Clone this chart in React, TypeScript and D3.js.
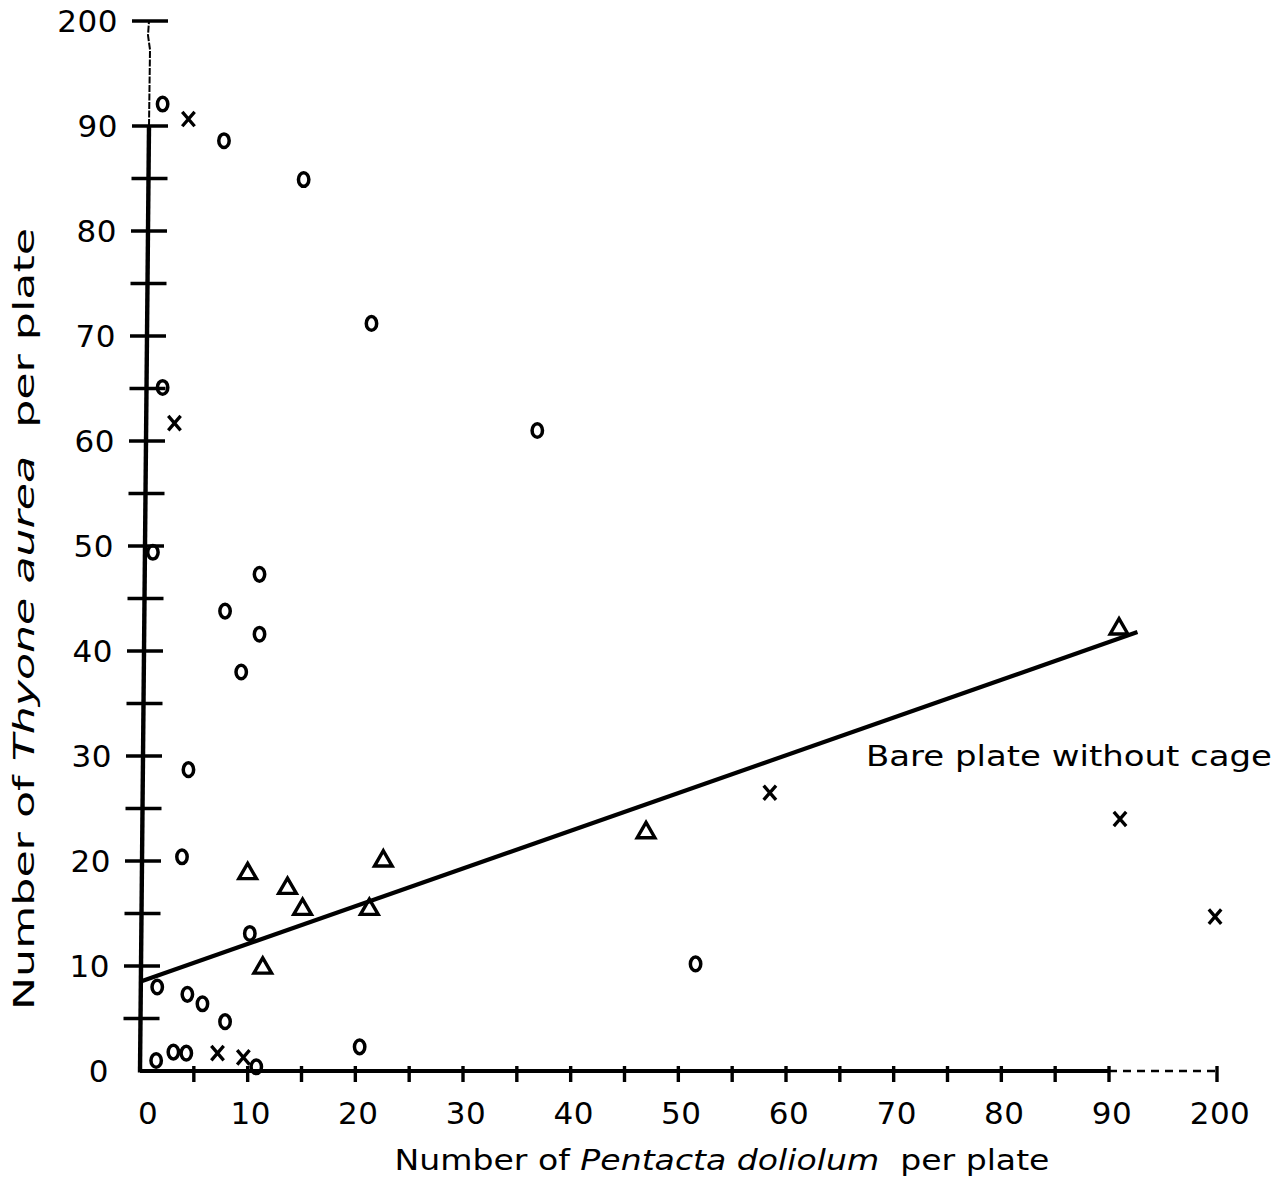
import React from 'react';
import * as d3 from 'd3';

// Broken axes: 0..90 linear, then one interval for 90..200
const xDomain = [0, 90, 200];
const yDomain = [0, 90, 200];
const xTickVals = [5, 10, 15, 20, 25, 30, 35, 40, 45, 50, 55, 60, 65, 70, 75, 80, 85, 90, 200];
const xTickLabels = [0, 10, 20, 30, 40, 50, 60, 70, 80, 90, 200];
const yTickVals = [5, 10, 15, 20, 25, 30, 35, 40, 45, 50, 55, 60, 65, 70, 75, 80, 85, 90, 200];
const yTickLabels = [0, 10, 20, 30, 40, 50, 60, 70, 80, 90, 200];

// "o" points
const circleX = [2.1, 7.8, 15.2, 21.5, 2.1, 36.9, 1.2, 11.1, 7.9, 11.1, 9.4, 4.5, 3.9, 10.2, 51.6, 1.6, 4.4, 5.8, 7.9, 1.5, 3.1, 4.3, 10.8, 20.4];
const circleY = [113, 88.6, 84.9, 71.2, 65.1, 61.0, 49.4, 47.3, 43.8, 41.6, 38.0, 28.7, 20.4, 13.1, 10.2, 8.0, 7.3, 6.4, 4.7, 1.0, 1.8, 1.7, 0.4, 2.3];

// "x" points
const crossX = [4.5, 3.2, 7.2, 9.6, 58.5, 101.2, 198];
const crossY = [97.3, 61.7, 1.7, 1.3, 26.5, 24.0, 14.7];

// triangle points
const triX = [10.0, 13.7, 15.1, 22.6, 21.3, 11.4, 47.0, 100.2];
const triY = [18.9, 17.5, 15.5, 20.1, 15.5, 9.9, 22.8, 42.2];

// regression line end points
const lineX = [0, 119];
const lineY = [8.5, 41.8];

const FONT = '"DejaVu Sans", Geneva, sans-serif';

const App = () => {
  const width = 1285;
  const height = 1201;

  const x = d3.scaleLinear().domain(xDomain).range([140, 1109, 1217]);
  const y = d3.scaleLinear().domain(yDomain).range([1071, 126, 21]);

  // the scanned y axis leans a little to the right
  const tilt = d3.scaleLinear().domain([0, 90]).range([0, 9]);
  const axisX = (v: number) => x(0) + tilt(Math.min(v, 90));

  const line = d3.line<number>()
    .x((d) => x(lineX[d]))
    .y((d) => y(lineY[d]));

  const tri = d3.symbol().type(d3.symbolTriangle).size(135)();

  return (
    <svg width={width} height={height} style={{ position: 'absolute', left: 0, top: 0, background: '#fff' }}>
      <rect width={width} height={height} fill="#fff" />

      {/* y axis */}
      <line x1={axisX(0)} y1={y(0) + 1.5} x2={axisX(90)} y2={y(90)} stroke="#000" strokeWidth={4.4} />
      <path
        d={`M${axisX(90)},${y(90)} L${axisX(90) + 1},${y(170)} L${axisX(90) - 1},${y(185)} L${axisX(90)},${y(200)}`}
        fill="none" stroke="#000" strokeWidth={2} strokeDasharray="7,1.5"
      />
      {yTickVals.map((v) => (
        <line key={'yt' + v} x1={axisX(v) - 17} x2={axisX(v) + 19} y1={y(v)} y2={y(v)} stroke="#000" strokeWidth={3.4} />
      ))}
      {yTickLabels.map((v) => (
        <text key={'yl' + v} x={axisX(v) - 31} y={y(v)} dy="0.36em" textAnchor="end"
          fontFamily={FONT} fontSize={31} letterSpacing={0.5}>{v}</text>
      ))}

      {/* x axis */}
      <line x1={x(0)} y1={y(0)} x2={x(90)} y2={y(0)} stroke="#000" strokeWidth={3.8} />
      <line x1={x(90)} y1={y(0)} x2={x(200)} y2={y(0)} stroke="#000" strokeWidth={2.4} strokeDasharray="8,6" />
      {xTickVals.map((v) => (
        <line key={'xt' + v} x1={x(v)} x2={x(v)} y1={y(0) - 5} y2={y(0) + 11} stroke="#000" strokeWidth={3.4} />
      ))}
      {xTickLabels.map((v) => (
        <text key={'xl' + v} x={x(v) + (v === 0 ? 8 : 3)} y={1124} textAnchor="middle"
          fontFamily={FONT} fontSize={31} letterSpacing={0.5}>{v}</text>
      ))}

      {/* regression line */}
      <path d={line([0, 1]) || ''} fill="none" stroke="#000" strokeWidth={4.2} />

      {/* points */}
      {circleX.map((v, i) => (
        <ellipse key={'c' + i} cx={x(v)} cy={y(circleY[i])} rx={5.2} ry={6.8} fill="none" stroke="#000" strokeWidth={3.5} />
      ))}
      {crossX.map((v, i) => (
        <path key={'x' + i} transform={`translate(${x(v)},${y(crossY[i])})`}
          d="M-6.2,-7.2 L6.2,7.2 M6.2,-7.2 L-6.2,7.2" fill="none" stroke="#000" strokeWidth={3.3} />
      ))}
      {triX.map((v, i) => (
        <path key={'t' + i} transform={`translate(${x(v)},${y(triY[i]) + 1})`}
          d={tri || ''} fill="none" stroke="#000" strokeWidth={3.4} strokeLinejoin="miter" />
      ))}

      {/* annotation */}
      <text x={866} y={766} fontFamily={FONT} fontSize={29} textLength={406} lengthAdjust="spacingAndGlyphs">
        Bare plate without cage
      </text>

      {/* axis titles */}
      <text x={722} y={1170} textAnchor="middle" fontFamily={FONT} fontSize={29}
        textLength={655} lengthAdjust="spacingAndGlyphs">
        Number of <tspan fontStyle="italic">Pentacta doliolum</tspan>{'\u00a0\u00a0'}per plate
      </text>
      <text transform="translate(34,619) rotate(-90)" textAnchor="middle" fontFamily={FONT} fontSize={29}
        textLength={782} lengthAdjust="spacingAndGlyphs">
        Number of <tspan fontStyle="italic">Thyone aurea</tspan>{'\u00a0\u00a0'}per plate
      </text>
    </svg>
  );
};

export default App;
